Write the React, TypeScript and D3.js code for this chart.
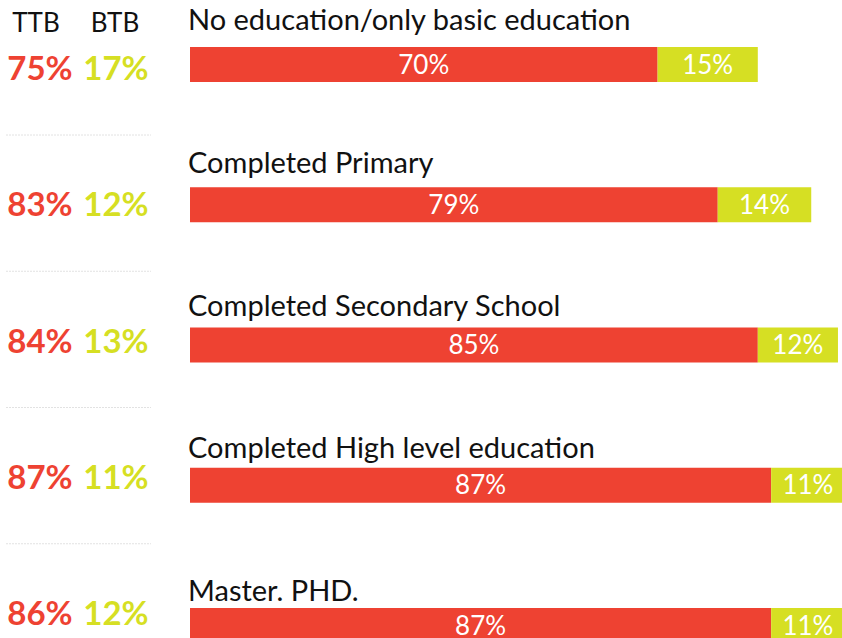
import React from "react";
import { scaleLinear, scalePoint } from "d3";

const categories = [
  "No education/only basic education",
  "Completed Primary",
  "Completed Secondary School",
  "Completed High level education",
  "Master. PHD.",
];
const ttbValues = [75, 83, 84, 87, 86];
const btbValues = [17, 12, 13, 11, 12];
const redBarValues = [70, 79, 85, 87, 87];
const yellowBarValues = [15, 14, 12, 11, 11];

const RED = "#EE4232";
const YELLOW = "#D6DF23";
const FONT = "Lato, 'Open Sans', sans-serif";

export default function App() {
  const width = 842;
  const height = 638;
  const barH = 35;

  const x = scaleLinear().domain([0, 100]).range([190, 190 + 668]);
  // bar tops, category label baselines and left-column baselines each have their own rhythm
  const yBar = scalePoint<string>().domain(categories).range([47, 608]);
  const yLabel = scalePoint<string>().domain(categories).range([30, 601]);
  const yLeft = scalePoint<string>().domain(categories).range([80, 625]);

  return (
    <svg
      width={width}
      height={height}
      style={{ position: "absolute", left: 0, top: 0, background: "#fff" }}
      fontFamily={FONT}
    >
      {/* column headers */}
      <text x={36} y={32} fontSize={26} textAnchor="middle" fill="#111">
        TTB
      </text>
      <text x={115} y={32} fontSize={26} textAnchor="middle" fill="#111">
        BTB
      </text>

      {categories.map((cat, i) => {
        const top = yBar(cat)!;
        const mid = top + barH / 2;
        const left = yLeft(cat)!;
        const r = redBarValues[i];
        const yl = yellowBarValues[i];
        return (
          <g key={cat}>
            {i < categories.length - 1 && (
              <line
                x1={6}
                x2={151}
                y1={left + 55}
                y2={left + 55}
                stroke="#e2e2e2"
                strokeDasharray="2,1"
              />
            )}
            <text x={40} y={left} fontSize={33} fontWeight="bold" textAnchor="middle" fill={RED}>
              {ttbValues[i]}%
            </text>
            <text x={116} y={left} fontSize={33} fontWeight="bold" textAnchor="middle" fill={YELLOW}>
              {btbValues[i]}%
            </text>
            <text x={188} y={yLabel(cat)} fontSize={29} fill="#111">
              {cat}
            </text>
            <rect x={x(0)} y={top} width={x(r) - x(0)} height={barH} fill={RED} />
            <rect x={x(r)} y={top} width={x(r + yl) - x(r)} height={barH} fill={YELLOW} />
            <text x={(x(0) + x(r)) / 2} y={mid + 9} fontSize={26} textAnchor="middle" fill="#fff">
              {r}%
            </text>
            <text x={(x(r) + x(r + yl)) / 2} y={mid + 9} fontSize={26} textAnchor="middle" fill="#fff">
              {yl}%
            </text>
          </g>
        );
      })}
    </svg>
  );
}
